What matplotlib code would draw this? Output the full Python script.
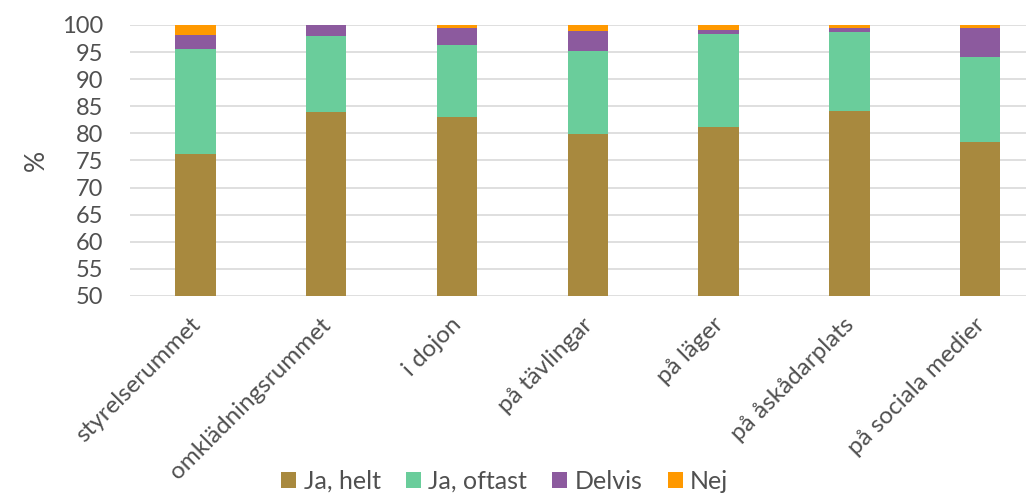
import matplotlib
matplotlib.use("Agg")
import matplotlib.pyplot as plt
import matplotlib.transforms as mtransforms
import numpy as np

categories = ["styrelserummet", "omklädningsrummet", "i dojon", "på tävlingar",
              "på läger", "på åskådarplats", "på sociala medier"]
ja_helt = [76.2, 84.0, 83.0, 79.8, 81.2, 84.1, 78.5]
ja_oftast = [19.4, 14.0, 13.4, 15.4, 17.1, 14.6, 15.6]
delvis = [2.6, 2.0, 3.1, 3.7, 0.8, 0.7, 5.4]
nej = [1.8, 0.0, 0.5, 1.1, 0.9, 0.6, 0.5]
series_names = ["Ja, helt", "Ja, oftast", "Delvis", "Nej"]
colors = ["#A8893E", "#6ACD9B", "#8C5A9E", "#FF9900"]
yticks = list(range(50, 101, 5))

plt.rcParams['font.family'] = ['Lato', 'DejaVu Sans']
fig = plt.figure(figsize=(10.26, 4.93), dpi=100)
ax = fig.add_axes([0.1267, 0.3996, 0.8733, 0.5497])

x = np.arange(len(categories))
bottom = np.zeros(len(categories))
for vals, name, c in zip([ja_helt, ja_oftast, delvis, nej], series_names, colors):
    v = np.array(vals)
    ax.bar(x, v, width=0.31, bottom=bottom, color=c, label=name, zorder=3)
    bottom += v

ax.set_ylim(50, 100)
ax.set_xlim(-0.5, 6.35)
ax.set_yticks(yticks)
ax.set_yticklabels([str(t) for t in yticks], fontsize=17, color="#505050")
ax.yaxis.grid(True, color="#D9D9D9", linewidth=1.2, zorder=0)
ax.set_axisbelow(True)
for s in ax.spines.values():
    s.set_visible(False)
ax.tick_params(axis='both', length=0)
ax.tick_params(axis='y', pad=19.5)
ax.set_xticks(x)
ax.set_xticklabels(categories, rotation=45, ha='right', rotation_mode='anchor',
                   fontsize=17.5, color="#505050")
ax.tick_params(axis='x', pad=13)
offset = mtransforms.ScaledTranslation(-6 / 100, 0, fig.dpi_scale_trans)
for lab in ax.get_xticklabels():
    lab.set_transform(lab.get_transform() + offset)
ax.set_ylabel("%", fontsize=19, color="#505050")
ax.yaxis.set_label_coords(-0.091, 0.5)

fig.legend(loc='lower center', bbox_to_anchor=(0.492, -0.045), ncol=4, frameon=False,
           fontsize=18, handlelength=0.6, handleheight=0.6, handletextpad=0.3,
           columnspacing=1.0, labelcolor="#505050")

fig.savefig("out.png", dpi=100)
